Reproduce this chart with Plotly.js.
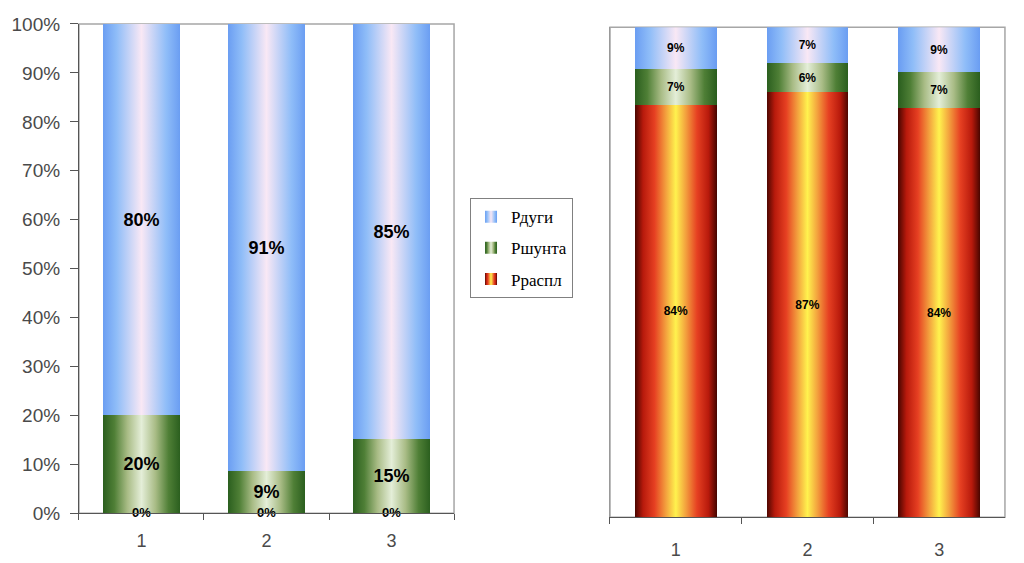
<!DOCTYPE html>
<html>
<head>
<meta charset="utf-8">
<script src="https://cdn.plot.ly/plotly-3.0.1.min.js"></script>
<style>
  html, body { margin: 0; padding: 0; background: #ffffff; }
  #plot { width: 1024px; height: 563px; }
</style>
</head>
<body>
<div id="plot"></div>
<script>

// Categories
let categories = ["1", "2", "3"];

// Series names (stack order, bottom to top)
let series_names = ["Рраспл", "Ршунта", "Рдуги"];

// Left chart values (%)
let left_raspl = [0, 0, 0];
let left_shunta = [20, 8.6, 15.1];
let left_dugi = [80, 91.4, 84.9];

// Right chart values (%)
let right_raspl = [84.1, 86.8, 83.5];
let right_shunta = [7.3, 5.9, 7.3];
let right_dugi = [8.6, 7.3, 9.2];

// Gradient stops per series (edge -> centre -> edge)
let gradient_stops = {
  "Рраспл": [
    [0, "#4a0600"], [0.1, "#b81a0c"], [0.24, "#e64022"], [0.38, "#f3a23e"],
    [0.5, "#fff24e"], [0.62, "#f3a23e"], [0.76, "#e64022"], [0.9, "#b81a0c"], [1, "#4a0600"]
  ],
  "Ршунта": [
    [0, "#2a5e1e"], [0.15, "#4f7f36"], [0.32, "#a9bc86"], [0.5, "#e4eed8"],
    [0.68, "#a9bc86"], [0.85, "#4f7f36"], [1, "#2a5e1e"]
  ],
  "Рдуги": [
    [0, "#6a9df2"], [0.18, "#8fbdf8"], [0.5, "#f9e8f5"], [0.82, "#8fbdf8"], [1, "#6a9df2"]
  ]
};
let flat_cols = {"Рраспл": "#e64022", "Ршунта": "#4f7f36", "Рдуги": "#8fbdf8"};
let grad_ids = {"Рраспл": "grad_raspl", "Ршунта": "grad_shunta", "Рдуги": "grad_dugi"};

let label_font = function(size) {
  return {family: "Arial, 'Liberation Sans', sans-serif", size: size, color: "#000000", weight: "bold"};
};

let make_bar = function(name, values, axisnum, showlegend, fontsize) {
  return {
    type: "bar",
    name: name,
    x: categories,
    y: values,
    xaxis: "x" + (axisnum == 1 ? "" : axisnum),
    yaxis: "y" + (axisnum == 1 ? "" : axisnum),
    width: 0.62,
    legendgroup: name,
    legendrank: 3 - series_names.indexOf(name),
    showlegend: showlegend,
    marker: {color: flat_cols[name], line: {width: 0}},
    text: values.map(v => v > 0 ? v.toFixed(0) + "%" : ""),
    textposition: "inside",
    insidetextanchor: "middle",
    textangle: 0,
    constraintext: "none",
    insidetextfont: label_font(fontsize),
    hoverinfo: "skip"
  };
};

let data = [];
data.push(make_bar(series_names[0], left_raspl, 1, true, 18));
data.push(make_bar(series_names[1], left_shunta, 1, true, 18));
data.push(make_bar(series_names[2], left_dugi, 1, true, 18));
data.push(make_bar(series_names[0], right_raspl, 2, false, 12));
data.push(make_bar(series_names[1], right_shunta, 2, false, 12));
data.push(make_bar(series_names[2], right_dugi, 2, false, 12));

// Zero-height labels sitting on the left baseline
data.push({
  type: "scatter",
  mode: "text",
  x: categories,
  y: left_raspl,
  xaxis: "x",
  yaxis: "y",
  text: left_raspl.map(v => v.toFixed(0) + "%"),
  textposition: "middle center",
  textfont: label_font(13),
  cliponaxis: false,
  showlegend: false,
  hoverinfo: "skip"
});

let tick_font = {family: "Arial, 'Liberation Sans', sans-serif", size: 19, color: "#4a4a4a"};
let xtick_font = {family: "Arial, 'Liberation Sans', sans-serif", size: 18, color: "#4a4a4a"};

let make_xaxis = function(domain, anchor, standoff) {
  return {
    domain: domain,
    anchor: anchor,
    type: "category",
    range: [-0.5, 2.5],
    fixedrange: true,
    showgrid: false,
    zeroline: false,
    showline: true,
    linecolor: "#555555",
    linewidth: 1,
    ticks: "outside",
    tickson: "boundaries",
    ticklen: 6,
    tickcolor: "#555555",
    ticklabelstandoff: standoff,
    tickfont: xtick_font
  };
};

// Set layout
let layout = {
  width: 1024,
  height: 563,
  margin: {l: 0, r: 0, t: 0, b: 0},
  paper_bgcolor: "#ffffff",
  plot_bgcolor: "#ffffff",
  barmode: "stack",
  showlegend: true,
  xaxis: make_xaxis([0.0771, 0.4434], "y", 11),
  yaxis: {
    domain: [0.0883, 0.9574],
    anchor: "x",
    range: [0, 100],
    fixedrange: true,
    showgrid: false,
    zeroline: false,
    showline: true,
    linecolor: "#555555",
    linewidth: 1,
    ticks: "outside",
    ticklen: 8,
    tickcolor: "#555555",
    dtick: 10,
    ticksuffix: "%",
    ticklabelstandoff: 6,
    tickfont: tick_font
  },
  xaxis2: make_xaxis([0.5957, 0.9814], "y2", 16),
  yaxis2: {
    domain: [0.0812, 0.9515],
    anchor: "x2",
    range: [0, 100],
    fixedrange: true,
    showgrid: false,
    zeroline: false,
    showline: true,
    linecolor: "#999999",
    linewidth: 1,
    ticks: "",
    showticklabels: false
  },
  shapes: [
    {type: "rect", xref: "x domain", yref: "y domain", x0: 0, x1: 1, y0: 0, y1: 1,
     line: {color: "#a6a6a6", width: 1.5}, layer: "below"},
    {type: "rect", xref: "x2 domain", yref: "y2 domain", x0: 0, x1: 1, y0: 0, y1: 1,
     line: {color: "#a6a6a6", width: 1.5}, layer: "below"}
  ],
  legend: {
    x: 0.459,
    y: 0.648,
    xanchor: "left",
    yanchor: "top",
    bgcolor: "#ffffff",
    bordercolor: "#808080",
    borderwidth: 1,
    traceorder: "grouped",
    tracegroupgap: 6,
    font: {family: "'Liberation Serif', 'Times New Roman', serif", size: 17, color: "#000000"}
  }
};

let config = {displayModeBar: false, staticPlot: true};

// Swap flat fills for the cylinder-like gradients
let paint_gradients = function(gd) {
  let ns = "http://www.w3.org/2000/svg";
  let svg = gd.querySelector("svg.main-svg");
  let defs = document.createElementNS(ns, "defs");
  Object.keys(gradient_stops).forEach(name => {
    let grad = document.createElementNS(ns, "linearGradient");
    grad.setAttribute("id", grad_ids[name]);
    grad.setAttribute("x1", "0");
    grad.setAttribute("x2", "1");
    grad.setAttribute("y1", "0");
    grad.setAttribute("y2", "0");
    gradient_stops[name].forEach(s => {
      let stop = document.createElementNS(ns, "stop");
      stop.setAttribute("offset", s[0]);
      stop.setAttribute("stop-color", s[1]);
      grad.appendChild(stop);
    });
    defs.appendChild(grad);
  });
  svg.insertBefore(defs, svg.firstChild);

  gd.querySelectorAll("g.barlayer g.trace").forEach(g => {
    let name = g.__data__[0].trace.name;
    g.querySelectorAll("g.point path").forEach(p => {
      p.style.fill = "url(#" + grad_ids[name] + ")";
    });
  });
  gd.querySelectorAll("g.legend g.traces").forEach(g => {
    let name = g.__data__[0].trace.name;
    g.querySelectorAll("g.legendpoints path").forEach(p => {
      p.style.fill = "url(#" + grad_ids[name] + ")";
      p.style.stroke = "none";
    });
  });
};

let plotdiv = document.getElementById("plot");
Plotly.newPlot(plotdiv, data, layout, config).then(gd => paint_gradients(gd));

</script>
</body>
</html>
